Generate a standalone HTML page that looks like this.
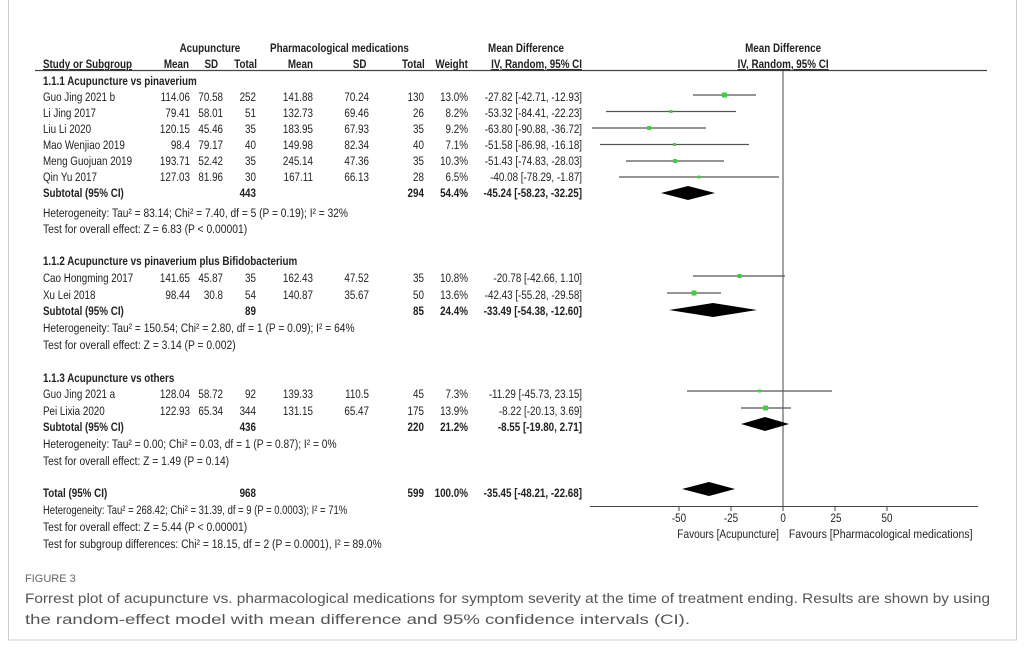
<!DOCTYPE html>
<html><head><meta charset="utf-8"><style>
html,body{margin:0;padding:0;background:#fff;}
svg{display:block;}
.t{font-family:"Liberation Sans",sans-serif;font-size:12px;fill:#222;}
.b{font-weight:bold;}
.e{text-anchor:end;}
.m{text-anchor:middle;}
</style></head><body>
<svg width="1024" height="649" viewBox="0 0 1024 649" xmlns="http://www.w3.org/2000/svg">
<rect x="8.5" y="-1" width="1008" height="641" fill="none" stroke="#ccc" stroke-width="1"/>
<line x1="35" y1="70.5" x2="987" y2="70.5" stroke="#444" stroke-width="1.2"/>
<line x1="783" y1="70" x2="783" y2="506" stroke="#444" stroke-width="1"/>
<line x1="590" y1="506.5" x2="978" y2="506.5" stroke="#444" stroke-width="1"/>
<g stroke="#444"><line x1="679" y1="506" x2="679" y2="511"/><line x1="731" y1="506" x2="731" y2="511"/><line x1="783" y1="506" x2="783" y2="511"/><line x1="835" y1="506" x2="835" y2="511"/><line x1="887" y1="506" x2="887" y2="511"/></g>
<g stroke="#555" stroke-width="1.2">
<line x1="693" y1="95" x2="756" y2="95"/>
<line x1="606" y1="111.5" x2="736" y2="111.5"/>
<line x1="592" y1="128" x2="706" y2="128"/>
<line x1="600" y1="144.5" x2="749" y2="144.5"/>
<line x1="626" y1="161" x2="724" y2="161"/>
<line x1="619" y1="177" x2="779" y2="177"/>
<line x1="693" y1="276" x2="785" y2="276"/>
<line x1="667" y1="293" x2="721" y2="293"/>
<line x1="687" y1="391" x2="832" y2="391"/>
<line x1="741" y1="408" x2="791" y2="408"/>
</g>
<g fill="#4c4">
<rect x="722" y="92.5" width="5" height="5"/>
<rect x="669.5" y="110" width="3" height="3"/>
<rect x="647" y="126" width="4" height="4"/>
<rect x="673" y="143" width="3" height="3"/>
<rect x="673" y="159" width="4" height="4"/>
<rect x="697.5" y="175.5" width="3" height="3"/>
<rect x="737.5" y="274" width="4" height="4"/>
<rect x="691.5" y="290.5" width="5" height="5"/>
<rect x="758" y="389.5" width="3" height="3"/>
<rect x="763" y="405.5" width="5" height="5"/>
</g>
<g fill="#000">
<polygon points="661,193 688,186 715,193 688,200"/>
<polygon points="669,310 713,303 757,310 713,317"/>
<polygon points="741,424 765,417 789,424 765,431"/>
<polygon points="682,489 709,482 735,489 709,496"/>
</g>
<g transform="scale(0.82,1)" class="t">
<text class="b m" x="256" y="52">Acupuncture</text>
<text class="b m" x="414" y="52">Pharmacological medications</text>
<text class="b m" x="641.5" y="52">Mean Difference</text>
<text class="b m" x="955" y="52">Mean Difference</text>
<text class="b" x="52.4" y="68" text-decoration="underline">Study or Subgroup</text>
<text class="b e" x="230.5" y="68">Mean</text><text class="b e" x="266" y="68">SD</text><text class="b e" x="313.4" y="68">Total</text>
<text class="b e" x="381.7" y="68">Mean</text><text class="b e" x="447" y="68">SD</text><text class="b e" x="518" y="68">Total</text><text class="b e" x="570.7" y="68">Weight</text>
<text class="b e" x="709.8" y="68" text-decoration="underline">IV, Random, 95% CI</text>
<text class="b m" x="955" y="68" text-decoration="underline">IV, Random, 95% CI</text>

<text class="b" x="52.4" y="85">1.1.1 Acupuncture vs pinaverium</text>
<text x="52.4" y="101">Guo Jing 2021 b</text><text class="e" x="231.7" y="101">114.06</text><text class="e" x="272" y="101">70.58</text><text class="e" x="312.2" y="101">252</text><text class="e" x="381.7" y="101">141.88</text><text class="e" x="450" y="101">70.24</text><text class="e" x="517" y="101">130</text><text class="e" x="570.7" y="101">13.0%</text><text class="e" x="709.8" y="101">-27.82 [-42.71, -12.93]</text>
<text x="52.4" y="117">Li Jing 2017</text><text class="e" x="231.7" y="117">79.41</text><text class="e" x="272" y="117">58.01</text><text class="e" x="312.2" y="117">51</text><text class="e" x="381.7" y="117">132.73</text><text class="e" x="450" y="117">69.46</text><text class="e" x="517" y="117">26</text><text class="e" x="570.7" y="117">8.2%</text><text class="e" x="709.8" y="117">-53.32 [-84.41, -22.23]</text>
<text x="52.4" y="133">Liu Li 2020</text><text class="e" x="231.7" y="133">120.15</text><text class="e" x="272" y="133">45.46</text><text class="e" x="312.2" y="133">35</text><text class="e" x="381.7" y="133">183.95</text><text class="e" x="450" y="133">67.93</text><text class="e" x="517" y="133">35</text><text class="e" x="570.7" y="133">9.2%</text><text class="e" x="709.8" y="133">-63.80 [-90.88, -36.72]</text>
<text x="52.4" y="149">Mao Wenjiao 2019</text><text class="e" x="231.7" y="149">98.4</text><text class="e" x="272" y="149">79.17</text><text class="e" x="312.2" y="149">40</text><text class="e" x="381.7" y="149">149.98</text><text class="e" x="450" y="149">82.34</text><text class="e" x="517" y="149">40</text><text class="e" x="570.7" y="149">7.1%</text><text class="e" x="709.8" y="149">-51.58 [-86.98, -16.18]</text>
<text x="52.4" y="165">Meng Guojuan 2019</text><text class="e" x="231.7" y="165">193.71</text><text class="e" x="272" y="165">52.42</text><text class="e" x="312.2" y="165">35</text><text class="e" x="381.7" y="165">245.14</text><text class="e" x="450" y="165">47.36</text><text class="e" x="517" y="165">35</text><text class="e" x="570.7" y="165">10.3%</text><text class="e" x="709.8" y="165">-51.43 [-74.83, -28.03]</text>
<text x="52.4" y="181">Qin Yu 2017</text><text class="e" x="231.7" y="181">127.03</text><text class="e" x="272" y="181">81.96</text><text class="e" x="312.2" y="181">30</text><text class="e" x="381.7" y="181">167.11</text><text class="e" x="450" y="181">66.13</text><text class="e" x="517" y="181">28</text><text class="e" x="570.7" y="181">6.5%</text><text class="e" x="709.8" y="181">-40.08 [-78.29, -1.87]</text>
<text class="b" x="52.4" y="197">Subtotal (95% CI)</text><text class="b e" x="312.2" y="197">443</text><text class="b e" x="517" y="197">294</text><text class="b e" x="570.7" y="197">54.4%</text><text class="b e" x="709.8" y="197">-45.24 [-58.23, -32.25]</text>
<text x="52.4" y="217" textLength="372" lengthAdjust="spacingAndGlyphs">Heterogeneity: Tau² = 83.14; Chi² = 7.40, df = 5 (P = 0.19); I² = 32%</text>
<text x="52.4" y="233" textLength="249" lengthAdjust="spacingAndGlyphs">Test for overall effect: Z = 6.83 (P &lt; 0.00001)</text>

<text class="b" x="52.4" y="265">1.1.2 Acupuncture vs pinaverium plus Bifidobacterium</text>
<text x="52.4" y="282">Cao Hongming 2017</text><text class="e" x="231.7" y="282">141.65</text><text class="e" x="272" y="282">45.87</text><text class="e" x="312.2" y="282">35</text><text class="e" x="381.7" y="282">162.43</text><text class="e" x="450" y="282">47.52</text><text class="e" x="517" y="282">35</text><text class="e" x="570.7" y="282">10.8%</text><text class="e" x="709.8" y="282">-20.78 [-42.66, 1.10]</text>
<text x="52.4" y="299">Xu Lei 2018</text><text class="e" x="231.7" y="299">98.44</text><text class="e" x="272" y="299">30.8</text><text class="e" x="312.2" y="299">54</text><text class="e" x="381.7" y="299">140.87</text><text class="e" x="450" y="299">35.67</text><text class="e" x="517" y="299">50</text><text class="e" x="570.7" y="299">13.6%</text><text class="e" x="709.8" y="299">-42.43 [-55.28, -29.58]</text>
<text class="b" x="52.4" y="315">Subtotal (95% CI)</text><text class="b e" x="312.2" y="315">89</text><text class="b e" x="517" y="315">85</text><text class="b e" x="570.7" y="315">24.4%</text><text class="b e" x="709.8" y="315">-33.49 [-54.38, -12.60]</text>
<text x="52.4" y="332" textLength="380" lengthAdjust="spacingAndGlyphs">Heterogeneity: Tau² = 150.54; Chi² = 2.80, df = 1 (P = 0.09); I² = 64%</text>
<text x="52.4" y="349" textLength="235" lengthAdjust="spacingAndGlyphs">Test for overall effect: Z = 3.14 (P = 0.002)</text>

<text class="b" x="52.4" y="382">1.1.3 Acupuncture vs others</text>
<text x="52.4" y="398">Guo Jing 2021 a</text><text class="e" x="231.7" y="398">128.04</text><text class="e" x="272" y="398">58.72</text><text class="e" x="312.2" y="398">92</text><text class="e" x="381.7" y="398">139.33</text><text class="e" x="450" y="398">110.5</text><text class="e" x="517" y="398">45</text><text class="e" x="570.7" y="398">7.3%</text><text class="e" x="709.8" y="398">-11.29 [-45.73, 23.15]</text>
<text x="52.4" y="415">Pei Lixia 2020</text><text class="e" x="231.7" y="415">122.93</text><text class="e" x="272" y="415">65.34</text><text class="e" x="312.2" y="415">344</text><text class="e" x="381.7" y="415">131.15</text><text class="e" x="450" y="415">65.47</text><text class="e" x="517" y="415">175</text><text class="e" x="570.7" y="415">13.9%</text><text class="e" x="709.8" y="415">-8.22 [-20.13, 3.69]</text>
<text class="b" x="52.4" y="431">Subtotal (95% CI)</text><text class="b e" x="312.2" y="431">436</text><text class="b e" x="517" y="431">220</text><text class="b e" x="570.7" y="431">21.2%</text><text class="b e" x="709.8" y="431">-8.55 [-19.80, 2.71]</text>
<text x="52.4" y="448" textLength="358" lengthAdjust="spacingAndGlyphs">Heterogeneity: Tau² = 0.00; Chi² = 0.03, df = 1 (P = 0.87); I² = 0%</text>
<text x="52.4" y="465" textLength="227" lengthAdjust="spacingAndGlyphs">Test for overall effect: Z = 1.49 (P = 0.14)</text>

<text class="b" x="52.4" y="497">Total (95% CI)</text><text class="b e" x="312.2" y="497">968</text><text class="b e" x="517" y="497">599</text><text class="b e" x="570.7" y="497">100.0%</text><text class="b e" x="709.8" y="497">-35.45 [-48.21, -22.68]</text>
<text x="52.4" y="514" textLength="371" lengthAdjust="spacingAndGlyphs">Heterogeneity: Tau² = 268.42; Chi² = 31.39, df = 9 (P = 0.0003); I² = 71%</text>
<text x="52.4" y="531" textLength="249" lengthAdjust="spacingAndGlyphs">Test for overall effect: Z = 5.44 (P &lt; 0.00001)</text>
<text x="52.4" y="548" textLength="413" lengthAdjust="spacingAndGlyphs">Test for subgroup differences: Chi² = 18.15, df = 2 (P = 0.0001), I² = 89.0%</text>

<text class="m" x="828" y="522">-50</text><text class="m" x="891.5" y="522">-25</text><text class="m" x="955" y="522">0</text><text class="m" x="1019.5" y="522">25</text><text class="m" x="1081.7" y="522">50</text>
<text class="e" x="950" y="538" textLength="124" lengthAdjust="spacingAndGlyphs">Favours [Acupuncture]</text>
<text x="962" y="538" textLength="224" lengthAdjust="spacingAndGlyphs">Favours [Pharmacological medications]</text>
</g>
<text x="25" y="582" style="font-family:'Liberation Sans',sans-serif;font-size:11px;fill:#666;">FIGURE 3</text>
<text x="25" y="603" textLength="965" lengthAdjust="spacingAndGlyphs" style="font-family:'Liberation Sans',sans-serif;font-size:14px;fill:#555;">Forrest plot of acupuncture vs. pharmacological medications for symptom severity at the time of treatment ending. Results are shown by using</text>
<text x="25" y="624" textLength="665" lengthAdjust="spacingAndGlyphs" style="font-family:'Liberation Sans',sans-serif;font-size:14px;fill:#555;">the random-effect model with mean difference and 95% confidence intervals (CI).</text>
</svg>
</body></html>
